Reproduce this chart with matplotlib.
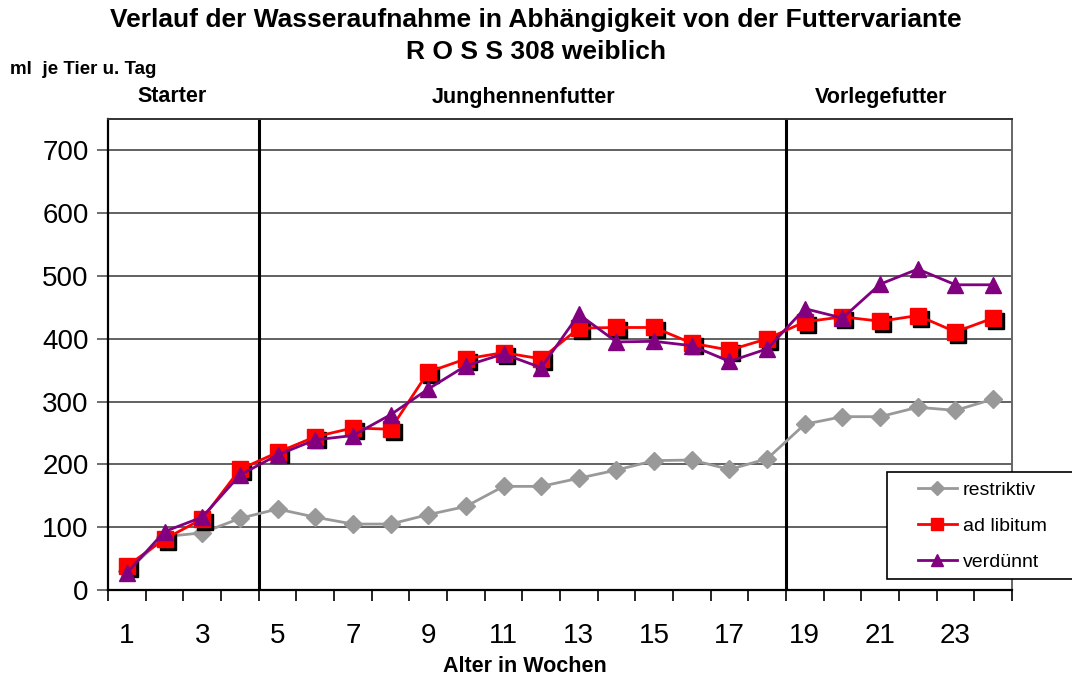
import matplotlib.pyplot as plt
import matplotlib.transforms as mtransforms
from matplotlib.patches import Rectangle

plt.rcParams['font.family'] = ['Liberation Sans', 'DejaVu Sans']

weeks = list(range(1, 25))
restriktiv = [30, 85, 91, 114, 129, 116, 105, 105, 120, 133, 165, 165,
              178, 191, 206, 207, 192, 209, 264, 276, 276, 291, 286, 304]
ad_libitum = [38, 81, 113, 192, 219, 244, 258, 256, 347, 368, 378, 368,
              417, 418, 418, 393, 382, 400, 427, 435, 428, 437, 411, 433]
verduennt = [27, 93, 116, 183, 215, 239, 246, 279, 320, 357, 376, 354,
             439, 395, 396, 389, 364, 384, 448, 433, 487, 511, 486, 486]
x_labels = ['1', '3', '5', '7', '9', '11', '13', '15', '17', '19', '21', '23']
phase_names = ['Starter', 'Junghennenfutter', 'Vorlegefutter']
phase_bounds = [4.5, 18.5]

fig = plt.figure(figsize=(10.72, 6.8), dpi=100)
ax = fig.add_axes([108 / 1072, 90 / 680, 904 / 1072, 471 / 680])

ax.set_xlim(0.5, 24.5)
ax.set_ylim(0, 750)

# grid
for v in range(100, 800, 100):
    ax.axhline(v, color='#555555', linewidth=1.3, zorder=1)
for b in phase_bounds:
    ax.axvline(b, color='black', linewidth=2.2, zorder=2)

ax.plot(weeks, restriktiv, color='#999999', linewidth=2, marker='D',
        markersize=9, label='restriktiv', zorder=3)

# black drop shadow for the squares
shadow = mtransforms.offset_copy(ax.transData, fig=fig, x=3, y=-3, units='dots')
ax.plot(weeks, ad_libitum, linestyle='none', marker='s', markersize=11,
        color='black', transform=shadow, zorder=4)
ax.plot(weeks, ad_libitum, color='#FF0000', linewidth=2, marker='s',
        markersize=11, label='ad libitum', zorder=5)
ax.plot(weeks, verduennt, color='#800080', linewidth=2, marker='^',
        markersize=12, label='verdünnt', zorder=6)

ax.set_yticks(range(0, 800, 100))
ax.set_yticklabels([str(v) for v in range(0, 800, 100)], fontsize=20)
ax.set_xticks([w + 0.5 for w in range(0, 25)], minor=False)
ax.set_xticklabels([])
ax.set_xticks(list(range(1, 25, 2)), minor=True)
ax.set_xticklabels(x_labels, minor=True, fontsize=20)
ax.tick_params(axis='x', which='minor', length=0, pad=24)
ax.tick_params(axis='x', which='major', length=8, width=1.2, direction='out')
ax.tick_params(axis='y', length=8, width=1.2, direction='out', color='#555555', pad=6)

for side in ['left', 'bottom']:
    ax.spines[side].set_color('black')
    ax.spines[side].set_linewidth(1.6)
ax.spines['top'].set_color('#333333')
ax.spines['top'].set_linewidth(1.4)
ax.spines['right'].set_color('#666666')
ax.spines['right'].set_linewidth(1.4)

fig.text(0.5, 1 - 20 / 680, 'Verlauf der Wasseraufnahme in Abhängigkeit von der Futtervariante',
         ha='center', va='center', fontsize=19, fontweight='bold')
fig.text(0.5, 1 - 52 / 680, 'R O S S 308 weiblich', ha='center', va='center',
         fontsize=19, fontweight='bold')
fig.text(10 / 1072, 1 - 70 / 680, 'ml  je Tier u. Tag', ha='left', va='center',
         fontsize=13.5, fontweight='bold')

phase_x = [172, 524, 881]
for name, px in zip(phase_names, phase_x):
    fig.text(px / 1072, 1 - 97 / 680, name, ha='center', va='center',
             fontsize=15.5, fontweight='bold')

fig.text(525 / 1072, 1 - 666 / 680, 'Alter in Wochen', ha='center', va='center',
         fontsize=15.5, fontweight='bold')

# legend box runs off the right edge like in the original
box = Rectangle((887 / 1072, 1 - 579 / 680), 200 / 1072, 107 / 680,
                transform=fig.transFigure, facecolor='white', edgecolor='black',
                linewidth=1.2, zorder=9)
fig.add_artist(box)
leg = ax.legend(loc='upper left', bbox_to_anchor=(918 / 1072, 1 - 481 / 680),
                bbox_transform=fig.transFigure, fontsize=14, frameon=False,
                borderpad=0, labelspacing=0.95, handlelength=2.0,
                handletextpad=0.3, markerscale=0.75, borderaxespad=0)
leg.set_zorder(10)
fig.add_artist(leg)

fig.savefig('out.png', dpi=100)
